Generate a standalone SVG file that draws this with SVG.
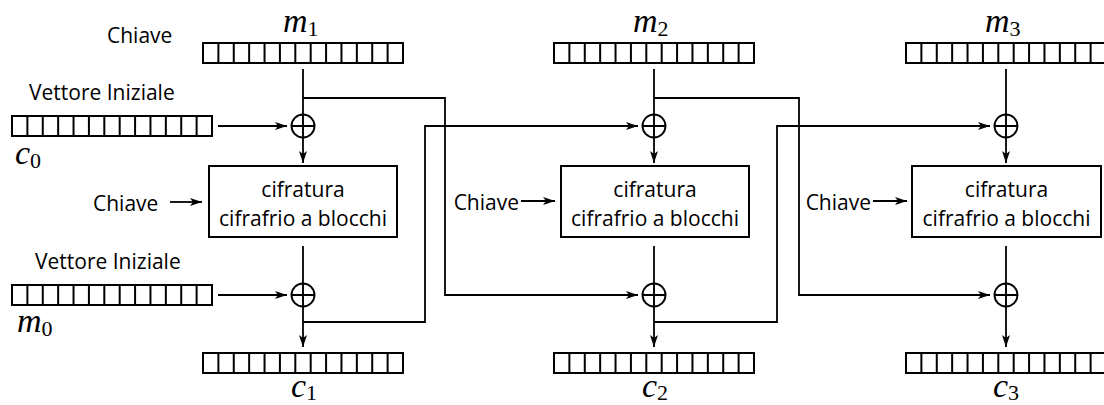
<svg xmlns="http://www.w3.org/2000/svg" xmlns:xlink="http://www.w3.org/1999/xlink" width="1104" height="405" viewBox="0 0 1104 405">
  <style>
    .reg { fill: #fff; stroke: #000; stroke-width: 2; }
    .box { fill: #fff; stroke: #000; stroke-width: 2; }
    .wire { fill: none; stroke: #000; stroke-width: 1.8; }
    .arrow { fill: none; stroke: #000; stroke-width: 1.8; marker-end: url(#head); }
    .xor { fill: none; stroke: #000; stroke-width: 1.9; }
    .lbl { font-family: "Open Sans", "Liberation Sans", sans-serif; font-size: 21px; fill: #000; }
    .lbl-r { font-family: "Open Sans", "Liberation Sans", sans-serif; font-size: 21px; fill: #000; text-anchor: end; }
    .blk { font-family: "Open Sans", "Liberation Sans", sans-serif; font-size: 21px; fill: #000; text-anchor: middle; }
    .math { font-family: "Liberation Serif", "DejaVu Serif", serif; font-style: italic; font-size: 34px; fill: #000; }
    .sub { font-style: normal; font-size: 22px; }
  </style>
  <defs>
    <marker id="head" markerUnits="userSpaceOnUse" markerWidth="14" markerHeight="10" refX="12" refY="4" orient="auto">
      <path d="M0,0 L12,4 L0,8 L3,4 Z" fill="#000"/>
    </marker>
    <!-- 13-cell register -->
    <g id="reg">
      <rect class="reg" x="0" y="0" width="200" height="20"/>
      <path class="reg" d="M15.38,0v20M30.77,0v20M46.15,0v20M61.54,0v20M76.92,0v20M92.31,0v20M107.69,0v20M123.08,0v20M138.46,0v20M153.85,0v20M169.23,0v20M184.62,0v20"/>
    </g>
    <g id="xorop">
      <circle class="xor" cx="0" cy="0" r="11.5"/>
      <path class="xor" d="M-11.5,0H11.5M0,-11.5V11.5"/>
    </g>
  </defs>

  <!-- connectors -->
  <g id="connectors">
    <!-- stage 1 -->
    <path class="wire" d="M303,69V114.5"/>
    <path class="arrow" d="M303,137.5V163"/>
    <path class="wire" d="M303,246V283.5"/>
    <path class="arrow" d="M303,306.5V347"/>
    <path class="arrow" d="M218,126H287"/>
    <path class="arrow" d="M218,295H287"/>
    <path class="arrow" d="M170,202H202"/>
    <path class="arrow" d="M303,98H445V295H638"/>
    <path class="arrow" d="M303,322H425V126H638"/>
    <!-- stage 2 -->
    <path class="wire" d="M654,69V114.5"/>
    <path class="arrow" d="M654,137.5V163"/>
    <path class="wire" d="M654,246V283.5"/>
    <path class="arrow" d="M654,306.5V347"/>
    <path class="arrow" d="M521,201H555"/>
    <path class="arrow" d="M654,98H799V295H990"/>
    <path class="arrow" d="M654,322H777V126H990"/>
    <!-- stage 3 -->
    <path class="wire" d="M1006,69V114.5"/>
    <path class="arrow" d="M1006,137.5V163"/>
    <path class="wire" d="M1006,246V283.5"/>
    <path class="arrow" d="M1006,306.5V347"/>
    <path class="arrow" d="M873,201H907"/>
  </g>

  <!-- initial vector and keys -->
  <g id="iv-top">
    <text class="lbl" x="107" y="43">Chiave</text>
    <text class="lbl" x="29" y="100">Vettore Iniziale</text>
    <use xlink:href="#reg" x="12" y="116"/>
    <text class="math" x="15" y="164">c<tspan class="sub" dy="4">0</tspan></text>
  </g>
  <g id="iv-bottom">
    <text class="lbl" x="35" y="269">Vettore Iniziale</text>
    <use xlink:href="#reg" x="12" y="285"/>
    <text class="math" x="17" y="332">m<tspan class="sub" dy="4">0</tspan></text>
  </g>

  <!-- stage 1 -->
  <g id="m1">
    <text class="math" x="283" y="32">m<tspan class="sub" dy="4">1</tspan></text>
    <use xlink:href="#reg" x="203" y="43"/>
  </g>
  <g id="xor1a"><use xlink:href="#xorop" x="303" y="126"/></g>
  <g id="key1"><text class="lbl" x="93" y="211">Chiave</text></g>
  <g id="enc1">
    <rect class="box" x="209" y="166" width="188" height="71"/>
    <text class="blk" x="303" y="197">cifratura</text>
    <text class="blk" x="303" y="226">cifrafrio a blocchi</text>
  </g>
  <g id="xor1b"><use xlink:href="#xorop" x="303" y="295"/></g>
  <g id="c1">
    <use xlink:href="#reg" x="203" y="353"/>
    <text class="math" x="291" y="397">c<tspan class="sub" dy="3">1</tspan></text>
  </g>

  <!-- stage 2 -->
  <g id="m2">
    <text class="math" x="633" y="32">m<tspan class="sub" dy="4">2</tspan></text>
    <use xlink:href="#reg" x="554" y="43"/>
  </g>
  <g id="xor2a"><use xlink:href="#xorop" x="654" y="126"/></g>
  <g id="key2"><text class="lbl-r" x="519" y="210">Chiave</text></g>
  <g id="enc2">
    <rect class="box" x="561" y="166" width="188" height="71"/>
    <text class="blk" x="655" y="197">cifratura</text>
    <text class="blk" x="655" y="226">cifrafrio a blocchi</text>
  </g>
  <g id="xor2b"><use xlink:href="#xorop" x="654" y="295"/></g>
  <g id="c2">
    <use xlink:href="#reg" x="554" y="353"/>
    <text class="math" x="642" y="397">c<tspan class="sub" dy="3">2</tspan></text>
  </g>

  <!-- stage 3 -->
  <g id="m3">
    <text class="math" x="985" y="32">m<tspan class="sub" dy="4">3</tspan></text>
    <use xlink:href="#reg" x="906" y="43"/>
  </g>
  <g id="xor3a"><use xlink:href="#xorop" x="1006" y="126"/></g>
  <g id="key3"><text class="lbl-r" x="871" y="210">Chiave</text></g>
  <g id="enc3">
    <rect class="box" x="912" y="166" width="189" height="71"/>
    <text class="blk" x="1006.5" y="197">cifratura</text>
    <text class="blk" x="1006.5" y="226">cifrafrio a blocchi</text>
  </g>
  <g id="xor3b"><use xlink:href="#xorop" x="1006" y="295"/></g>
  <g id="c3">
    <use xlink:href="#reg" x="906" y="353"/>
    <text class="math" x="993" y="397">c<tspan class="sub" dy="3">3</tspan></text>
  </g>
</svg>
